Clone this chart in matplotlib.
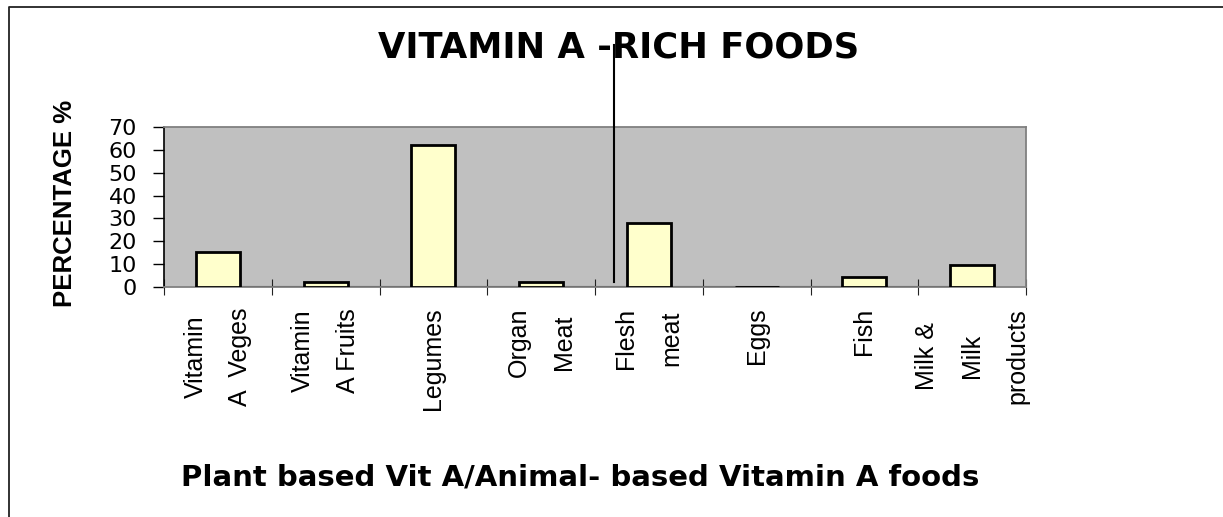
import matplotlib
matplotlib.use("Agg")
import matplotlib.pyplot as plt
from matplotlib.lines import Line2D

# data
foods = ["Vitamin\nA  Veges", "Vitamin\nA Fruits", "Legumes", "Organ\nMeat",
         "Flesh\nmeat", "Eggs", "Fish", "Milk &\nMilk\nproducts"]
percent = [15.5, 2, 62, 2, 28, 0, 4.5, 9.5]
yticks = [0, 10, 20, 30, 40, 50, 60, 70]

W, H = 1223, 517
fig = plt.figure(figsize=(W / 100, H / 100), dpi=100)
fig.patch.set_facecolor("white")

# plot area in pixels: x 164..1026, y 127..287
ax = fig.add_axes([164 / W, 1 - 287 / H, (1026 - 164) / W, (287 - 127) / H])
ax.set_facecolor("#C0C0C0")

n = len(foods)
pos = list(range(n))
ax.bar(pos, percent, width=0.41, color="#FFFFCC", edgecolor="black",
       linewidth=2, zorder=3)
ax.hlines(0, 0, n - 1, colors="black", linewidth=2.2, zorder=2)

ax.set_xlim(-0.5, n - 0.5)
ax.set_ylim(0, 70)

# y axis
ax.set_yticks(yticks)
ax.set_yticklabels([str(v) for v in yticks], family="DejaVu Sans", fontsize=16)
ax.tick_params(axis="y", direction="out", length=8, width=1, color="black", pad=11.5)

# x axis: ticks on boundaries, labels on centres
ax.set_xticks([i - 0.5 for i in range(n + 1)])
ax.set_xticklabels([])
ax.tick_params(axis="x", which="major", direction="inout", length=11.5, width=0.8,
               color="#222222")
ax.set_xticks(pos, minor=True)
ax.set_xticklabels(foods, minor=True, rotation=90, family="Liberation Sans",
                   fontsize=18, multialignment="center", va="top", ha="center",
                   linespacing=2.1)
ax.tick_params(axis="x", which="minor", length=0, pad=15)

for s in ["top", "right", "bottom"]:
    ax.spines[s].set_color("#808080")
    ax.spines[s].set_linewidth(1.3)
ax.spines["left"].set_color("black")
ax.spines["left"].set_linewidth(1.2)

# texts
fig.text(619 / W, 1 - 57 / H, "VITAMIN A -RICH FOODS", ha="center", va="baseline",
         family="DejaVu Sans", fontweight="bold", fontsize=25.5)
fig.text(580 / W, 1 - 485 / H, "Plant based Vit A/Animal- based Vitamin A foods",
         ha="center", va="baseline", family="DejaVu Sans", fontweight="bold",
         fontsize=21)
fig.text(64.5 / W, 1 - 203.5 / H, "PERCENTAGE %", rotation=90, ha="center",
         va="center", family="Liberation Sans", fontweight="bold", fontsize=18.5)

# divider line and outer frame
fig.add_artist(Line2D([613.7 / W, 613.7 / W], [1 - 45 / H, 1 - 282 / H],
                      color="black", linewidth=1.5))
fig.add_artist(Line2D([9 / W, 9 / W, 1], [0, 1 - 7 / H, 1 - 7 / H],
                      color="#222222", linewidth=1.3))

fig.savefig("out.png", dpi=100)
